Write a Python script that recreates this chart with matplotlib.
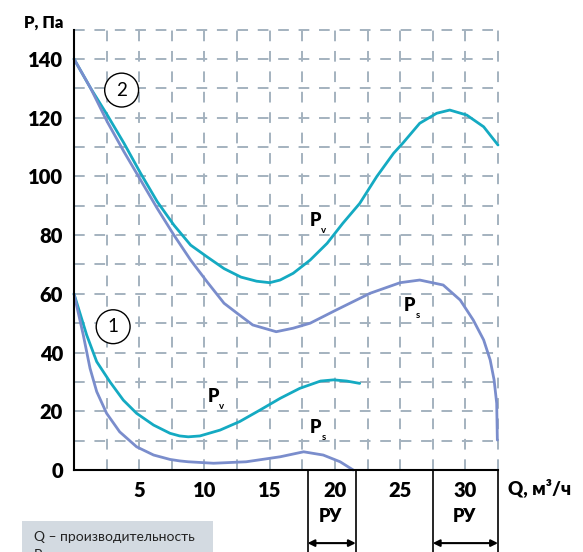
import numpy as np
import matplotlib
matplotlib.use('Agg')
import matplotlib.pyplot as plt
from matplotlib.patches import Rectangle

plt.rcParams['font.family'] = ['Lato', 'DejaVu Sans']

# curve 1 (lower pair)
q1_pv = [0, 0.97, 1.74, 2.76, 3.78, 4.8, 6.1, 7.36, 8.1, 8.76, 9.65, 11.2, 12.7, 14.25, 15.8, 17.3,
         18.9, 19.9, 20.9, 21.9]
p1_pv = [60, 46, 36.9, 30, 23.8, 19.3, 15.3, 12.5, 11.6, 11.3, 11.6, 13.6, 16.5, 20.4, 24.4, 27.8,
         30.3, 30.7, 30.3, 29.5]
q1_ps = [0, 0.71, 1.23, 1.74, 2.5, 3.5, 4.8, 6.1, 7.36, 8.1, 8.76, 10.7, 13.2, 15.8, 17.6, 19.1,
         20.4, 21.4]
p1_ps = [60, 46, 34.6, 26.7, 19.3, 13, 7.9, 5.1, 3.6, 3.1, 2.8, 2.3, 2.8, 4.5, 6.2, 5.1,
         2.8, 0]

# curve 2 (upper pair)
q2_pv = [0, 1.28, 2.55, 3.83, 5.1, 6.38, 7.66, 8.94, 10.2, 11.5, 12.8, 14.0, 15.0, 15.8, 16.8,
         18.1, 19.4, 20.6, 21.9, 23.2, 24.5, 25.2, 26.5, 27.8, 28.8, 30.1, 31.4, 32.5]
p2_pv = [140, 130, 120.9, 111.3, 101.1, 91.4, 83.4, 76.6, 72.6, 68.6, 65.7, 64.3, 63.8, 64.7, 67,
         71.5, 77.2, 84, 90.8, 99.9, 107.9, 111.3, 118.1, 121.5, 122.6, 120.9, 116.9, 110.7]
q2_ps = [0, 1.28, 2.55, 3.83, 5.1, 6.38, 7.66, 8.94, 10.2, 11.5, 12.5, 13.7, 15.5, 16.8, 18.1,
         20.1, 22.7, 25.0, 26.5, 28.3, 29.6, 30.6, 31.4, 31.9, 32.2, 32.4, 32.45]
p2_ps = [140, 130, 118.6, 108.4, 98.8, 89.1, 80, 71.5, 64.1, 56.8, 53.4, 49.4, 47.1, 48.3, 50,
         54.5, 60.2, 63.8, 64.7, 63, 57.9, 51.1, 44.3, 37.5, 30.7, 22.7, 10.2]

x_ticks = [5, 10, 15, 20, 25, 30]
y_ticks = [0, 20, 40, 60, 80, 100, 120, 140]
ru_ranges = [(17.9, 21.6), (27.5, 32.5)]

c_pv = '#14aac2'
c_ps = '#7a8dcc'
c_grid = '#a4b2bf'

fig = plt.figure(figsize=(5.83, 5.52), dpi=100)
ax = fig.add_axes([74/583, 1-470/552, (498-74)/583, (470-29.6)/552])
ax.set_xlim(0, 32.5)
ax.set_ylim(0, 150)

# dashed grid
for xv in np.arange(2.5, 32.6, 2.5):
    ax.axvline(xv, color=c_grid, lw=1.4, ls=(0, (5.5, 5)), clip_on=False, zorder=1)
for yv in np.arange(10, 151, 10):
    ax.axhline(yv, color=c_grid, lw=1.4, ls=(0, (5.5, 5)), clip_on=False, zorder=1)

lkw = dict(lw=2, solid_joinstyle='round', solid_capstyle='round', zorder=3, clip_on=False)
ax.plot(q1_pv, p1_pv, color=c_pv, **lkw)
ax.plot(q1_ps, p1_ps, color=c_ps, **lkw)
ax.plot(q2_pv, p2_pv, color=c_pv, **lkw)
ax.plot(q2_ps, p2_ps, color=c_ps, **lkw)

for s in ['top', 'right']:
    ax.spines[s].set_visible(False)
for s in ['left', 'bottom']:
    ax.spines[s].set_linewidth(1.5)
    ax.spines[s].set_zorder(4)

ax.set_xticks(x_ticks)
ax.set_yticks(y_ticks)
ax.tick_params(length=0, labelsize=14.5, pad=8)
for lab in ax.get_xticklabels() + ax.get_yticklabels():
    lab.set_fontweight('heavy')

# curve labels
def plabel(x, y, sub):
    ax.text(x, y, 'P', fontsize=13, fontweight='heavy', ha='center', va='center', zorder=5)
    ax.text(x + 0.65, y - 3.4, sub, fontsize=7, fontweight='bold', ha='center', va='center', zorder=5)

plabel(18.5, 85.1, 'v')
plabel(25.7, 55.9, 's')
plabel(10.65, 24.9, 'v')
plabel(18.5, 14.6, 's')

for x, y, t in [(3.65, 129.4, '2'), (3.0, 48.8, '1')]:
    ax.text(x, y, t, fontsize=13.5, ha='center', va='center', zorder=5,
            bbox=dict(boxstyle='circle,pad=0.45', fc='white', ec='black', lw=1))

# РУ ranges below the axis
for a, b in ru_ranges:
    for xv in (a, b):
        ax.plot([xv, xv], [0, -30], color='black', lw=1.2, clip_on=False)
    ax.annotate('', xy=(a, -24.9), xytext=(b, -24.9), annotation_clip=False,
                arrowprops=dict(arrowstyle='<|-|>', color='black', lw=1.5,
                                shrinkA=0, shrinkB=0, mutation_scale=10))
    ax.text((a + b) / 2 - 0.1, -16, 'РУ', fontsize=13, fontweight='heavy', ha='center', va='center')

fig.text(44/583, 1-23/552, 'P, Па', fontsize=12, fontweight='heavy', ha='center', va='center')
fig.text(508/583, 1-488/552, 'Q, м³/ч', fontsize=13.5, fontweight='heavy', ha='left', va='center')

# note box (second line is cut by the lower edge, as in the source)
fig.patches.append(Rectangle((22/583, 0), (213-22)/583, 1-521/552, transform=fig.transFigure,
                             fc='#d3dae1', ec='none'))
fig.text(34/583, 1-537/552, 'Q – производительность', fontsize=10, color='#222222', va='center')
fig.text(34/583, 1-555/552, 'P – полное давление', fontsize=10, color='#222222', va='center')

fig.savefig('out.png', dpi=100)
